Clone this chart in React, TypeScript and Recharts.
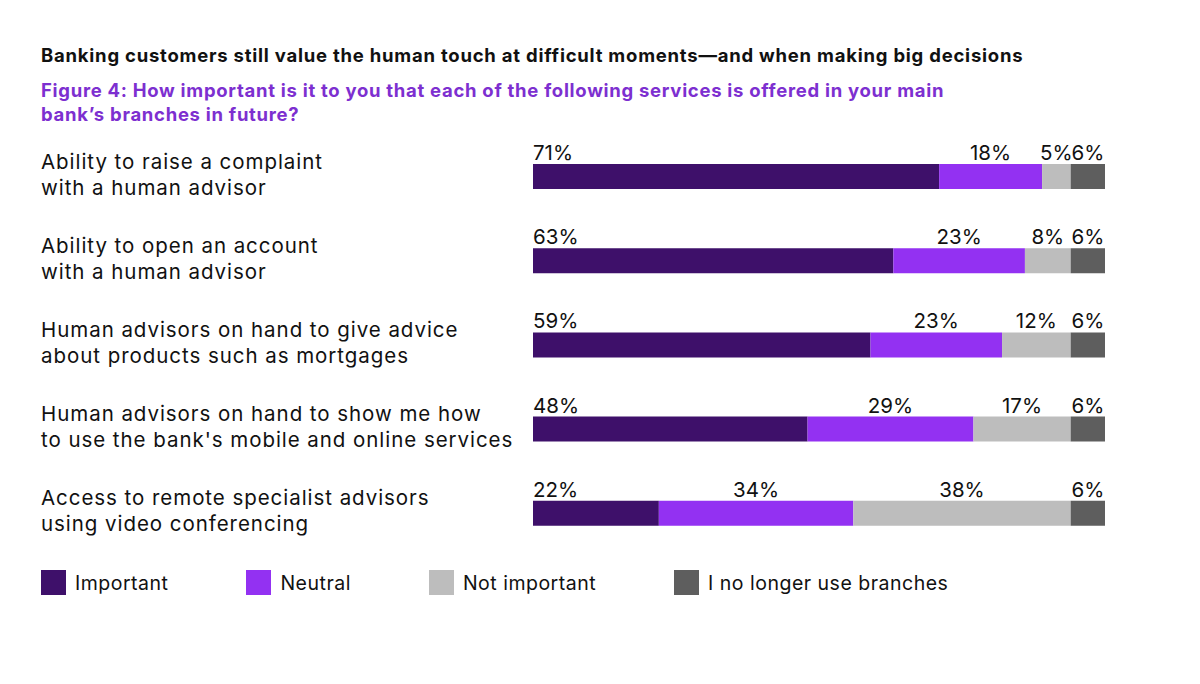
import { BarChart, Bar, XAxis, YAxis, LabelList } from "recharts"

const FONT = 'Inter, "Liberation Sans", Arial, sans-serif'

const categories = [
    ["Ability to raise a complaint", "with a human advisor"],
    ["Ability to open an account", "with a human advisor"],
    ["Human advisors on hand to give advice", "about products such as mortgages"],
    ["Human advisors on hand to show me how", "to use the bank's mobile and online services"],
    ["Access to remote specialist advisors", "using video conferencing"],
]
const important    = [71, 63, 59, 48, 22]
const neutral      = [18, 23, 23, 29, 34]
const notImportant = [5, 8, 12, 17, 38]
const noBranches   = [6, 6, 6, 6, 6]

const series = [
    { key: "important",    name: "Important",                color: "#3E106A" },
    { key: "neutral",      name: "Neutral",                  color: "#9331F2" },
    { key: "notImportant", name: "Not important",            color: "#BDBDBD" },
    { key: "noBranches",   name: "I no longer use branches", color: "#5E5E5E" },
]

const data = categories.map((lines, i) => ({
    name:         lines.join("\n"),
    important:    important[i],
    neutral:      neutral[i],
    notImportant: notImportant[i],
    noBranches:   noBranches[i],
}))

function CategoryTick({ y, payload }: any) {
    const lines = String(payload.value).split("\n")
    return (
        <text x={41} y={y} fill="#111" fontSize={20.5} fontFamily={FONT} letterSpacing={0.95}>
            <tspan x={41} dy={-7.5}>{lines[0]}</tspan>
            <tspan x={41} dy={26}>{lines[1]}</tspan>
        </text>
    )
}

const makeLabel = (alignStart: boolean) => (props: any) => {
    const { x, y, width, value } = props
    return (
        <text
            x={alignStart ? x : x + width / 2}
            y={y - 4}
            textAnchor={alignStart ? "start" : "middle"}
            fill="#111"
            fontSize={20.5}
            fontFamily={FONT}
        >
            {value}%
        </text>
    )
}

function ChartLegend() {
    return (
        <div style={{ position: "absolute", left: 41, top: 570, display: "flex", alignItems: "center", fontSize: 19.5, letterSpacing: 0.5, color: "#111" }}>
            {series.map(s => (
                <div key={s.key} style={{ display: "flex", alignItems: "center", marginRight: 78 }}>
                    <span style={{ width: 25, height: 25, background: s.color, display: "inline-block", marginRight: 9 }} />
                    <span>{s.name}</span>
                </div>
            ))}
        </div>
    )
}

export default function App() {
    return (
        <div style={{ position: "absolute", left: 0, top: 0, width: 1200, height: 684, background: "#fff", fontFamily: FONT }}>
            <div style={{ position: "absolute", left: 41, top: 44, fontSize: 18.5, fontWeight: 700, letterSpacing: 0.77, color: "#111", whiteSpace: "nowrap" }}>
                Banking customers still value the human touch at difficult moments—and when making big decisions
            </div>
            <div style={{ position: "absolute", left: 41, top: 78, fontSize: 18.5, lineHeight: "24px", fontWeight: 700, letterSpacing: 0.71, color: "#7D2FD0", whiteSpace: "nowrap" }}>
                Figure 4: How important is it to you that each of the following services is offered in your main<br />
                bank’s branches in future?
            </div>
            <BarChart
                width={1200}
                height={684}
                data={data}
                layout="vertical"
                margin={{ top: 134, right: 95, bottom: 129, left: 41 }}
                style={{ position: "absolute", left: 0, top: 0 }}
            >
                <XAxis type="number" domain={[0, 100]} hide />
                <YAxis
                    type="category"
                    dataKey="name"
                    width={492}
                    axisLine={false}
                    tickLine={false}
                    tick={<CategoryTick />}
                    interval={0}
                />
                {series.map((s, i) => (
                    <Bar
                        key={s.key}
                        dataKey={s.key}
                        name={s.name}
                        stackId="a"
                        fill={s.color}
                        barSize={25}
                        isAnimationActive={false}
                    >
                        <LabelList dataKey={s.key} content={makeLabel(i === 0)} />
                    </Bar>
                ))}
            </BarChart>
            <ChartLegend />
        </div>
    )
}
